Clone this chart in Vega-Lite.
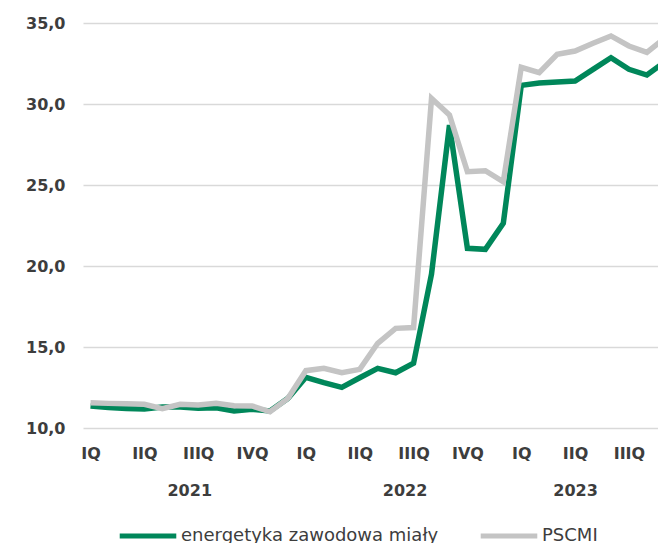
{
  "$schema": "https://vega.github.io/schema/vega-lite/v6.json",
  "width": 575,
  "height": 405,
  "autosize": {"type": "none"},
  "padding": {"left": 83, "top": 23, "right": 0, "bottom": 115},
  "background": "white",
  "config": {"view": {"stroke": null}, "font": "DejaVu Sans"},
  "datasets": {
    "years": [
      {"t": 5.5, "year": "2021"},
      {"t": 17.5, "year": "2022"},
      {"t": 27, "year": "2023"}
    ]
  },
  "data": {"values": [
    {"t": 0, "s": "energetyka zawodowa miały", "v": 11.36},
    {"t": 1, "s": "energetyka zawodowa miały", "v": 11.26},
    {"t": 2, "s": "energetyka zawodowa miały", "v": 11.2},
    {"t": 3, "s": "energetyka zawodowa miały", "v": 11.17},
    {"t": 4, "s": "energetyka zawodowa miały", "v": 11.3},
    {"t": 5, "s": "energetyka zawodowa miały", "v": 11.3},
    {"t": 6, "s": "energetyka zawodowa miały", "v": 11.22},
    {"t": 7, "s": "energetyka zawodowa miały", "v": 11.25},
    {"t": 8, "s": "energetyka zawodowa miały", "v": 11.05},
    {"t": 9, "s": "energetyka zawodowa miały", "v": 11.15},
    {"t": 10, "s": "energetyka zawodowa miały", "v": 11.05},
    {"t": 11, "s": "energetyka zawodowa miały", "v": 11.83},
    {"t": 12, "s": "energetyka zawodowa miały", "v": 13.13},
    {"t": 13, "s": "energetyka zawodowa miały", "v": 12.8},
    {"t": 14, "s": "energetyka zawodowa miały", "v": 12.51},
    {"t": 15, "s": "energetyka zawodowa miały", "v": 13.1},
    {"t": 16, "s": "energetyka zawodowa miały", "v": 13.68},
    {"t": 17, "s": "energetyka zawodowa miały", "v": 13.41},
    {"t": 18, "s": "energetyka zawodowa miały", "v": 14.0},
    {"t": 19, "s": "energetyka zawodowa miały", "v": 19.5},
    {"t": 20, "s": "energetyka zawodowa miały", "v": 28.7},
    {"t": 21, "s": "energetyka zawodowa miały", "v": 21.09},
    {"t": 22, "s": "energetyka zawodowa miały", "v": 21.03},
    {"t": 23, "s": "energetyka zawodowa miały", "v": 22.64},
    {"t": 24, "s": "energetyka zawodowa miały", "v": 31.15},
    {"t": 25, "s": "energetyka zawodowa miały", "v": 31.3},
    {"t": 26, "s": "energetyka zawodowa miały", "v": 31.36},
    {"t": 27, "s": "energetyka zawodowa miały", "v": 31.42},
    {"t": 28, "s": "energetyka zawodowa miały", "v": 32.14},
    {"t": 29, "s": "energetyka zawodowa miały", "v": 32.86},
    {"t": 30, "s": "energetyka zawodowa miały", "v": 32.14},
    {"t": 31, "s": "energetyka zawodowa miały", "v": 31.79},
    {"t": 32, "s": "energetyka zawodowa miały", "v": 32.6},
    {"t": 0, "s": "PSCMI", "v": 11.56},
    {"t": 1, "s": "PSCMI", "v": 11.52},
    {"t": 2, "s": "PSCMI", "v": 11.5},
    {"t": 3, "s": "PSCMI", "v": 11.46},
    {"t": 4, "s": "PSCMI", "v": 11.2},
    {"t": 5, "s": "PSCMI", "v": 11.46},
    {"t": 6, "s": "PSCMI", "v": 11.42},
    {"t": 7, "s": "PSCMI", "v": 11.52},
    {"t": 8, "s": "PSCMI", "v": 11.38},
    {"t": 9, "s": "PSCMI", "v": 11.36},
    {"t": 10, "s": "PSCMI", "v": 11.0},
    {"t": 11, "s": "PSCMI", "v": 11.83},
    {"t": 12, "s": "PSCMI", "v": 13.54},
    {"t": 13, "s": "PSCMI", "v": 13.68},
    {"t": 14, "s": "PSCMI", "v": 13.41},
    {"t": 15, "s": "PSCMI", "v": 13.62},
    {"t": 16, "s": "PSCMI", "v": 15.23},
    {"t": 17, "s": "PSCMI", "v": 16.15},
    {"t": 18, "s": "PSCMI", "v": 16.2},
    {"t": 19, "s": "PSCMI", "v": 30.35},
    {"t": 20, "s": "PSCMI", "v": 29.32},
    {"t": 21, "s": "PSCMI", "v": 25.82},
    {"t": 22, "s": "PSCMI", "v": 25.88},
    {"t": 23, "s": "PSCMI", "v": 25.2},
    {"t": 24, "s": "PSCMI", "v": 32.26},
    {"t": 25, "s": "PSCMI", "v": 31.93},
    {"t": 26, "s": "PSCMI", "v": 33.07},
    {"t": 27, "s": "PSCMI", "v": 33.27},
    {"t": 28, "s": "PSCMI", "v": 33.75},
    {"t": 29, "s": "PSCMI", "v": 34.2},
    {"t": 30, "s": "PSCMI", "v": 33.58},
    {"t": 31, "s": "PSCMI", "v": 33.19},
    {"t": 32, "s": "PSCMI", "v": 34.07}
  ]},
  "layer": [
    {
      "mark": {"type": "line", "strokeWidth": 5.5, "clip": true},
      "encoding": {
        "x": {
          "field": "t", "type": "quantitative",
          "scale": {"domain": [-0.42, 31.62], "nice": false, "zero": false},
          "axis": {
            "title": null, "values": [0, 3, 6, 9, 12, 15, 18, 21, 24, 27, 30],
            "labelExpr": "['IQ','IIQ','IIIQ','IVQ'][(datum.value/3)%4]",
            "domain": false, "ticks": false, "grid": false,
            "labelFont": "DejaVu Sans", "labelFontSize": 16, "labelFontWeight": "bold",
            "labelColor": "#3d3d3d", "labelPadding": 17,
            "labelFlush": false, "labelOverlap": false, "labelBound": false
          }
        },
        "y": {
          "field": "v", "type": "quantitative",
          "scale": {"domain": [10, 35], "nice": false, "zero": false},
          "axis": {
            "title": null, "values": [10, 15, 20, 25, 30, 35],
            "labelExpr": "replace(format(datum.value, '.1f'), '.', ',')",
            "domain": false, "ticks": false, "grid": true,
            "gridColor": "#d9d9d9", "gridWidth": 1.5,
            "labelFont": "DejaVu Sans", "labelFontSize": 16, "labelFontWeight": "bold",
            "labelColor": "#3d3d3d", "labelPadding": 18
          }
        },
        "color": {
          "field": "s", "type": "nominal",
          "scale": {"domain": ["energetyka zawodowa miały", "PSCMI"], "range": ["#00875a", "#c4c4c4"]},
          "legend": {
            "title": null, "orient": "none", "legendX": 34, "legendY": 482,
            "direction": "horizontal", "symbolType": "stroke", "symbolSize": 3200,
            "symbolStrokeWidth": 5, "labelFont": "DejaVu Sans", "labelFontSize": 18,
            "labelColor": "#3d3d3d", "labelOffset": 2, "columnPadding": 31,
            "labelLimit": 400
          }
        },
        "order": {"field": "t", "type": "quantitative"}
      }
    },
    {
      "data": {"name": "years"},
      "mark": {"type": "rule", "strokeOpacity": 0},
      "encoding": {
        "x": {
          "field": "t", "type": "quantitative",
          "scale": {"domain": [-0.42, 31.62], "nice": false, "zero": false},
          "axis": {
            "orient": "bottom", "title": null, "values": [5.5, 17.5, 27],
            "labelExpr": "datum.value < 12 ? '2021' : (datum.value < 24 ? '2022' : '2023')",
            "domain": false, "ticks": false, "grid": false,
            "labelFont": "DejaVu Sans", "labelFontSize": 16, "labelFontWeight": "bold",
            "labelColor": "#3d3d3d", "labelPadding": 54,
            "labelFlush": false, "labelOverlap": false, "labelBound": false
          }
        }
      }
    }
  ],
  "resolve": {"axis": {"x": "independent"}}
}
